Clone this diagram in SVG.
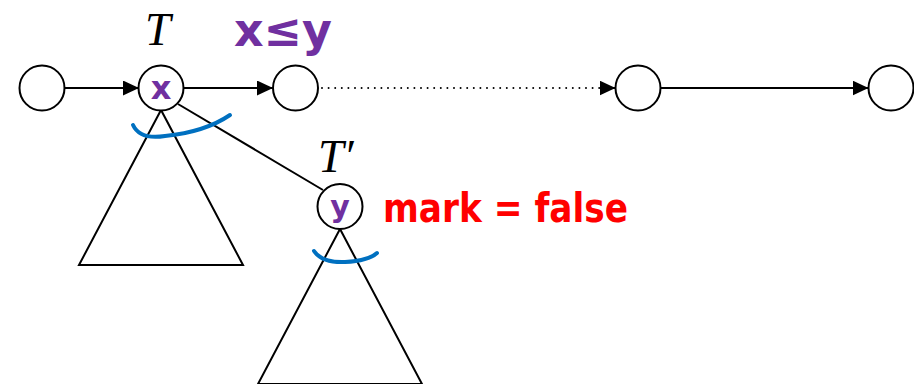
<svg xmlns="http://www.w3.org/2000/svg" width="914" height="384" viewBox="0 0 914 384">
<defs>
<marker id="arr" viewBox="0 0 16 15" refX="16" refY="7.5" markerWidth="16" markerHeight="15" markerUnits="userSpaceOnUse" orient="auto">
<path d="M0,0 L16,7.5 L0,15 z" fill="#000"/>
</marker>
</defs>
<style>
.node{fill:#fff;stroke:#000;stroke-width:2}
.edge{stroke:#000;stroke-width:2;fill:none}
.tri{fill:none;stroke:#000;stroke-width:2;stroke-linejoin:miter}
.lbl{font-family:"Liberation Serif","DejaVu Serif",serif;font-style:italic;font-size:46px;fill:#000}
.hand{font-family:"DejaVu Sans","Liberation Sans",sans-serif;font-weight:bold}
.pur{fill:#7030A0}
.red{fill:#FF0000}
.blue{fill:none;stroke:#0070C0;stroke-width:4;stroke-linecap:round}
</style>
<g id="connectors">
<line class="edge" x1="64.5" y1="88" x2="139" y2="88" marker-end="url(#arr)"/>
<line class="edge" x1="183.5" y1="88" x2="273" y2="88" marker-end="url(#arr)"/>
<line class="edge" x1="322" y1="88" x2="600" y2="88" stroke-width="4" stroke-dasharray="0 6.6" stroke-linecap="round"/>
<line class="edge" x1="600" y1="88" x2="615.5" y2="88" marker-end="url(#arr)" stroke-width="1"/>
<line class="edge" x1="661" y1="88" x2="868.5" y2="88" marker-end="url(#arr)"/>
<line class="edge" x1="178" y1="104" x2="323" y2="190"/>
</g>
<g id="tree1">
<polygon class="tri" points="161,110 79,265 243,265"/>
</g>
<g id="tree2">
<polygon class="tri" points="340,229 258,384 422,384"/>
</g>
<g id="n1"><circle class="node" cx="42" cy="88" r="22.5"/></g>
<g id="n2"><circle class="node" cx="161" cy="88" r="22.5"/>
<text class="hand pur" x="161" y="99" font-size="32" text-anchor="middle">x</text></g>
<g id="n3"><circle class="node" cx="295.5" cy="88" r="22.5"/></g>
<g id="n4"><circle class="node" cx="638" cy="88" r="22.5"/></g>
<g id="n5"><circle class="node" cx="891" cy="88" r="22.5"/></g>
<g id="ny"><circle class="node" cx="340" cy="206.5" r="22.5"/>
<text class="hand pur" x="340" y="217" font-size="30" text-anchor="middle">y</text></g>
<g id="labels">
<text class="lbl" x="145" y="45">T</text>
<text class="lbl" x="318" y="172">T′</text>
<text class="hand pur" x="234" y="46" font-size="46" textLength="98" lengthAdjust="spacingAndGlyphs">x≤y</text>
<text class="hand red" x="383" y="222" font-size="40" textLength="245" lengthAdjust="spacingAndGlyphs">mark = false</text>
</g>
<g id="marks">
<path class="blue" d="M133,125 Q140,140 165,136 Q205,132 230,115"/>
<path class="blue" d="M314,251 Q322,263 345,262 Q368,261 377,253"/>
</g>
</svg>
